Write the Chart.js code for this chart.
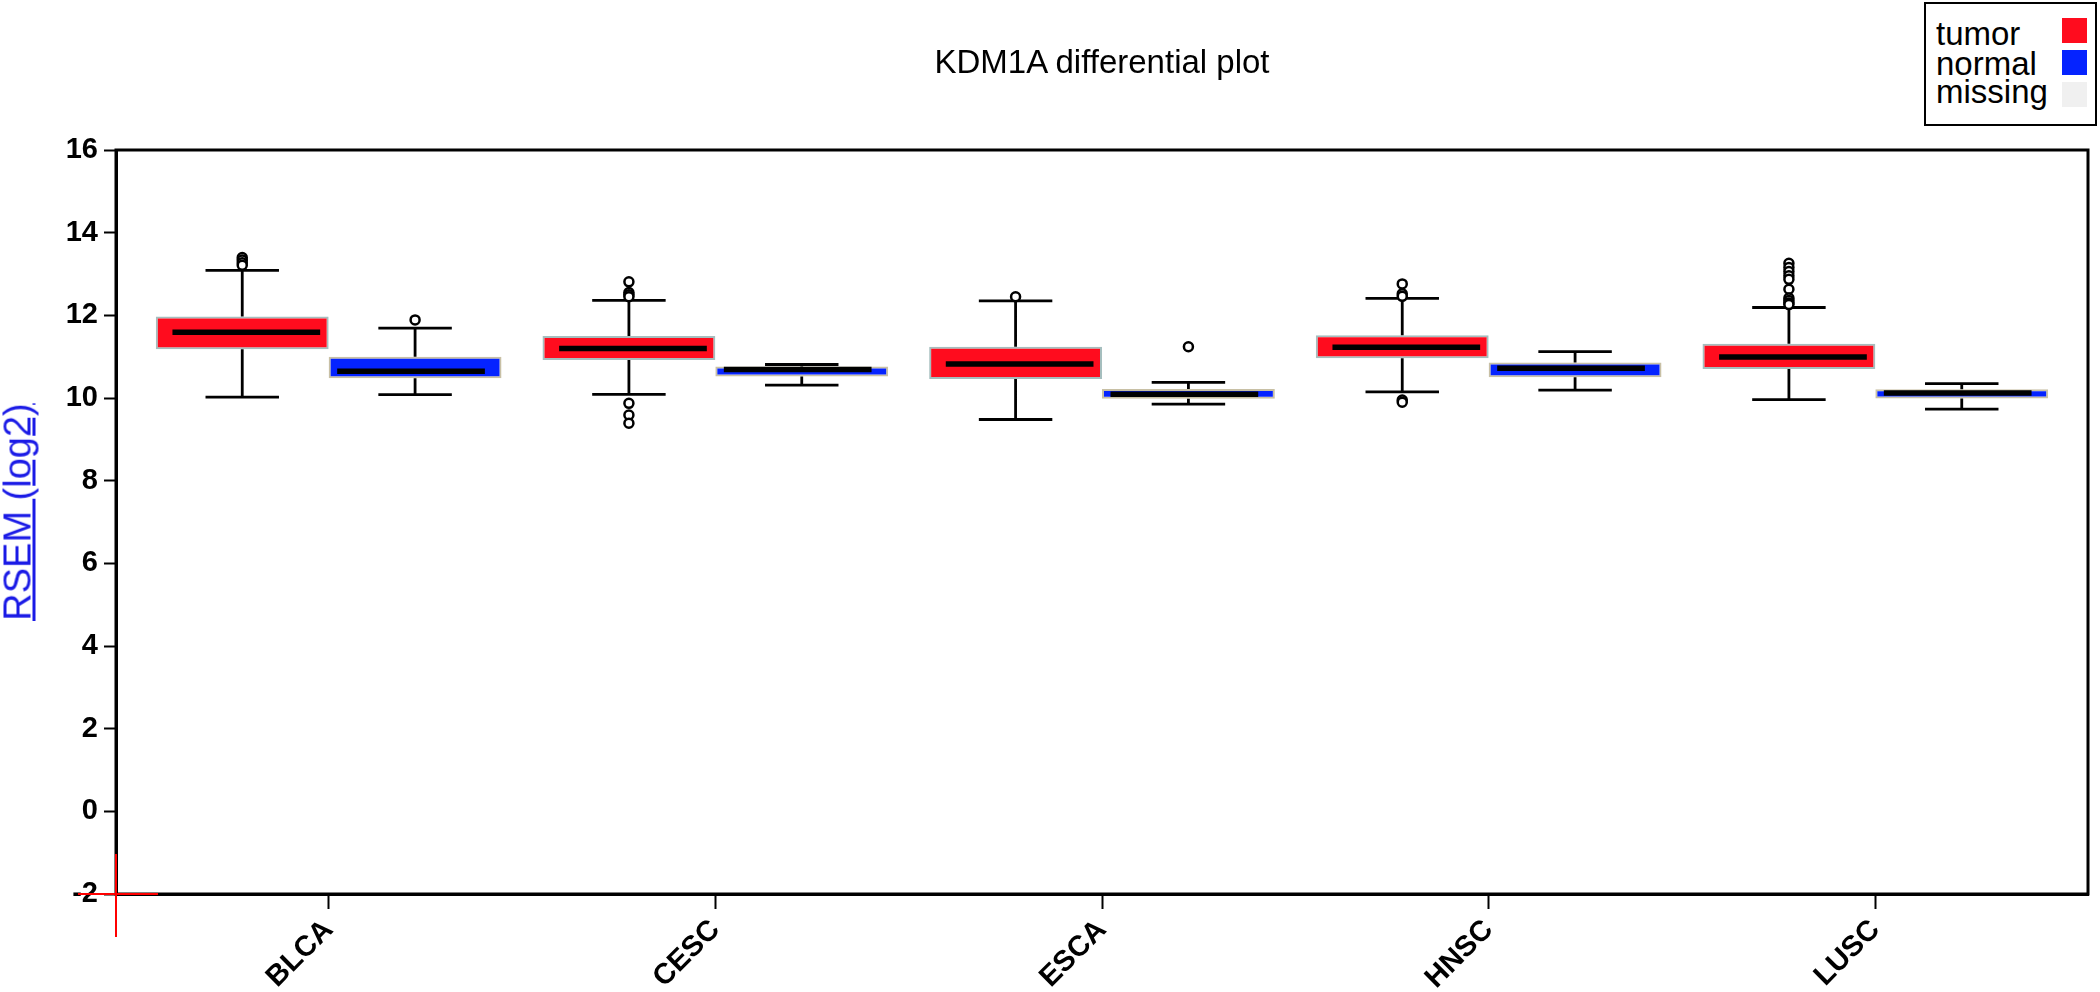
<!DOCTYPE html>
<html>
<head>
<meta charset="utf-8">
<title>KDM1A differential plot</title>
<script src="https://cdn.jsdelivr.net/npm/chart.js@4.4.1/dist/chart.umd.min.js"></script>
<style>
  body { margin: 0; background: #fff; font-family: Arial, "Liberation Sans", Helvetica, sans-serif; }
  #wrap { position: relative; width: 2100px; height: 992px; }
  #title { position: absolute; left: 1102px; top: 62px; transform: translate(-50%, -50%); font-size: 33px; white-space: nowrap; color: #000; }
  #ylabel { position: absolute; left: 18px; top: 512px; transform: translate(-50%, -50%) rotate(-90deg); font-size: 38px; white-space: nowrap; color: #1a1ae6; text-decoration: underline; }
  #legend { position: absolute; left: 1924px; top: 2px; width: 169px; height: 120px; border: 2px solid #000; background: #fff; }
  #legend .row { position: absolute; left: 10px; font-size: 33px; line-height: 32px; color: #000; }
  #legend .sw { position: absolute; left: 136px; width: 25px; height: 25px; }
</style>
</head>
<body>
<div id="wrap">
  <canvas id="myChart" width="2100" height="992"></canvas>
  <div id="title">KDM1A differential plot</div>
  <div id="ylabel">RSEM (log2)</div>
  <div id="legend">
    <div class="row" style="top:14px">tumor</div>
    <div class="row" style="top:44px">normal</div>
    <div class="row" style="top:72px">missing</div>
    <div class="sw" style="top:14px;background:rgb(255,12,30)"></div>
    <div class="sw" style="top:46px;background:rgb(5,35,255)"></div>
    <div class="sw" style="top:78px;background:#f0f0f0"></div>
  </div>
</div>
<script>
const categories = ['BLCA', 'CESC', 'ESCA', 'HNSC', 'LUSC'];
const yTicks = [-2, 0, 2, 4, 6, 8, 10, 12, 14, 16];

// tumor boxes
const tumorLow = [10.02, 10.09, 9.48, 10.15, 9.96];
const tumorQ1 = [11.18, 10.92, 10.46, 10.96, 10.70];
const tumorMedian = [11.59, 11.20, 10.82, 11.23, 10.99];
const tumorQ3 = [11.97, 11.50, 11.24, 11.52, 11.31];
const tumorHigh = [13.09, 12.36, 12.35, 12.41, 12.19];
const tumorOutliers = [
    [13.40, 13.34, 13.27, 13.21],
    [12.81, 12.55, 12.50, 12.45, 9.87, 9.59, 9.39],
    [12.45],
    [12.76, 12.52, 12.46, 9.95, 9.90],
    [13.26, 13.16, 13.06, 12.96, 12.87, 12.63, 12.42, 12.36, 12.30, 12.26]
];

// normal boxes
const normalLow = [10.08, 10.31, 9.85, 10.19, 9.73];
const normalQ1 = [10.48, 10.52, 9.98, 10.50, 9.99];
const normalMedian = [10.65, 10.69, 10.09, 10.72, 10.12];
const normalQ3 = [11.00, 10.76, 10.22, 10.86, 10.21];
const normalHigh = [11.69, 10.81, 10.38, 11.12, 10.35];
const normalOutliers = [[11.89], [], [11.24], [], []];

const FONT = 'Arial, "Liberation Sans", Helvetica, sans-serif';
const groupPct = 0.894;          // share of a category taken by the two boxes
const boxHalf = groupPct / 4;    // half width of one box, in x units
const capHalf = 0.095;

const boxes = (q1, q3) => q1.map((v, i) => ({ x: i, y: [v, q3[i]] }));

const whiskers = (off, low, q1, q3, high) => {
    let pts = [];
    low.forEach((v, i) => {
        const c = i + off;
        pts.push({ x: c, y: q3[i] }, { x: c, y: high[i] }, { x: c, y: null });
        pts.push({ x: c, y: q1[i] }, { x: c, y: v }, { x: c, y: null });
    });
    return pts;
};

const caps = (off, low, high) => {
    let pts = [];
    low.forEach((v, i) => {
        const c = i + off;
        pts.push({ x: c - capHalf, y: high[i] }, { x: c + capHalf, y: high[i] }, { x: c, y: null });
        pts.push({ x: c - capHalf, y: v }, { x: c + capHalf, y: v }, { x: c, y: null });
    });
    return pts;
};

// median line sits a little closer to the inner edge of each box
const medians = (off, med, leftInset, rightInset) => {
    let pts = [];
    med.forEach((v, i) => {
        const c = i + off;
        pts.push({ x: c - boxHalf + leftInset, y: v }, { x: c + boxHalf - rightInset, y: v }, { x: c, y: null });
    });
    return pts;
};

const outliers = (off, list) => {
    let pts = [];
    list.forEach((vals, i) => vals.forEach(v => pts.push({ x: i + off, y: v })));
    return pts;
};

const lineStyle = (width) => ({
    type: 'line', borderColor: '#000', borderWidth: width, pointRadius: 0,
    fill: false, spanGaps: false, tension: 0, borderCapStyle: 'butt'
});

const datasets = [
    {
        label: 'tumor', data: boxes(tumorQ1, tumorQ3),
        backgroundColor: 'rgb(255,12,30)', borderColor: 'rgb(165,190,190)',
        borderWidth: 2, borderSkipped: false, categoryPercentage: groupPct, barPercentage: 1, order: 5
    },
    {
        label: 'normal', data: boxes(normalQ1, normalQ3),
        backgroundColor: 'rgb(5,35,255)', borderColor: 'rgb(200,192,165)',
        borderWidth: 2, borderSkipped: false, categoryPercentage: groupPct, barPercentage: 1, order: 5
    },
    Object.assign(lineStyle(2.8), { data: whiskers(-boxHalf, tumorLow, tumorQ1, tumorQ3, tumorHigh), order: 4 }),
    Object.assign(lineStyle(2.8), { data: whiskers(boxHalf, normalLow, normalQ1, normalQ3, normalHigh), order: 4 }),
    Object.assign(lineStyle(2.8), { data: caps(-boxHalf, tumorLow, tumorHigh), order: 3 }),
    Object.assign(lineStyle(2.8), { data: caps(boxHalf, normalLow, normalHigh), order: 3 }),
    Object.assign(lineStyle(5.5), { data: medians(-boxHalf, tumorMedian, 0.043, 0.022), order: 2 }),
    Object.assign(lineStyle(5.5), { data: medians(boxHalf, normalMedian, 0.022, 0.043), order: 2 }),
    {
        type: 'scatter', data: outliers(-boxHalf, tumorOutliers).concat(outliers(boxHalf, normalOutliers)),
        pointRadius: 4.5, pointBorderWidth: 2.5, borderColor: '#000', backgroundColor: '#fff', order: 1
    }
];

// frame round the plot and the red marks at the origin
const framePlugin = {
    id: 'frame',
    afterDraw(chart) {
        const { ctx, chartArea: a } = chart;
        ctx.save();
        ctx.strokeStyle = '#000';
        ctx.lineWidth = 3;
        ctx.strokeRect(a.left, a.top, a.right - a.left, a.bottom - a.top);
        ctx.strokeStyle = 'rgb(255,0,0)';
        ctx.lineWidth = 2;
        ctx.beginPath();
        ctx.moveTo(a.left, a.bottom - 40);
        ctx.lineTo(a.left, a.bottom + 43);
        ctx.moveTo(a.left - 38, a.bottom);
        ctx.lineTo(a.left + 42, a.bottom);
        ctx.stroke();
        ctx.restore();
    }
};

const ctx = document.getElementById('myChart').getContext('2d');
const myChart = new Chart(ctx, {
    type: 'bar',
    data: { datasets },
    plugins: [framePlugin],
    options: {
        responsive: false,
        animation: false,
        layout: { padding: { top: 150, right: 12, left: 0, bottom: 0 } },
        plugins: { legend: { display: false }, tooltip: { enabled: false }, title: { display: false } },
        scales: {
            x: {
                type: 'linear', min: -0.55, max: 4.55, offset: false,
                grid: { offset: false, drawOnChartArea: false, drawTicks: true, tickLength: 15, tickWidth: 2, tickColor: '#000' },
                border: { display: true, color: '#000', width: 3 },
                ticks: {
                    stepSize: 1, includeBounds: false, autoSkip: false, maxRotation: 45, minRotation: 45, padding: 4,
                    color: '#000', font: { family: FONT, size: 29, weight: 'bold' },
                    callback: (v) => categories[v] ?? ''
                },
                afterFit: (s) => { s.height = 98; }
            },
            y: {
                type: 'linear', min: yTicks[0], max: yTicks[yTicks.length - 1], beginAtZero: false,
                grid: { drawOnChartArea: false, drawTicks: true, tickLength: 12, tickWidth: 2, tickColor: '#000' },
                border: { display: true, color: '#000', width: 3 },
                afterBuildTicks: (s) => { s.ticks = yTicks.map(v => ({ value: v })); },
                ticks: { padding: 6, color: '#000', font: { family: FONT, size: 29, weight: 'bold' } },
                afterFit: (s) => { s.width = 116; }
            }
        }
    }
});
</script>
</body>
</html>
